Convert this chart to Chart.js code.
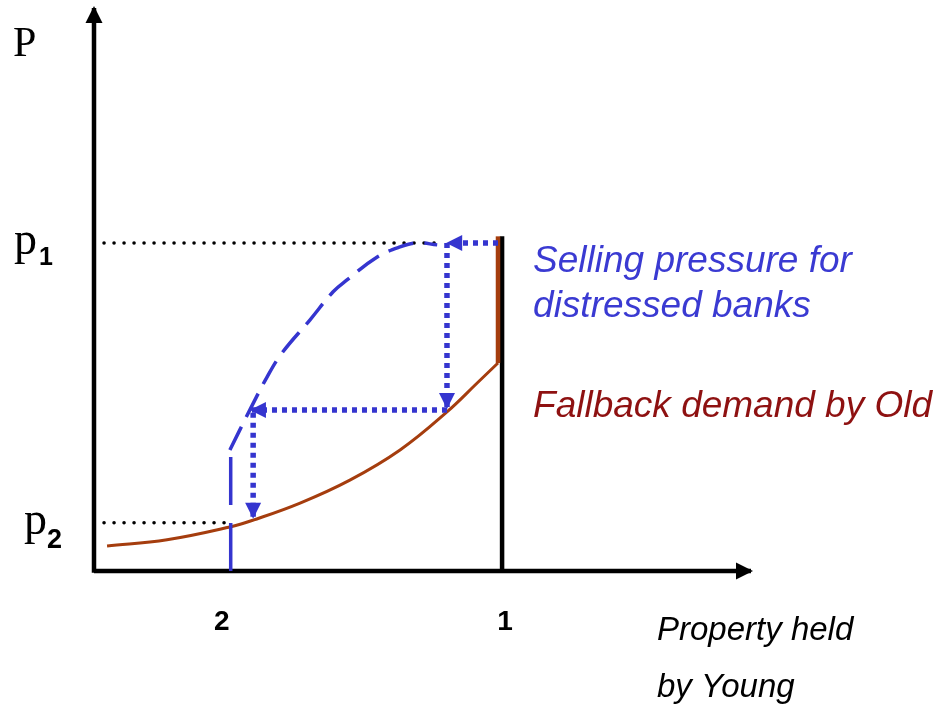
<!DOCTYPE html>
<html>
<head>
<meta charset="utf-8">
<script src="https://cdn.jsdelivr.net/npm/chart.js@4.4.0/dist/chart.umd.min.js"></script>
<style>
  html, body { margin: 0; padding: 0; background: #fff; }
  #wrap { width: 937px; height: 713px; position: relative; }
</style>
</head>
<body>
<div id="wrap"><canvas id="chart"></canvas></div>
<script>
// axis ranges (x: property held, 1 = all; y: price, p1 = 1)
const xMax = 1.61;
const yMax = 1.716;
const p1 = 1.0;
const p2 = 0.147;
const stage1 = 1.0;
const stage2 = 0.335;

// fallback demand by Old (brown)
const fallbackX = [0.032, 0.179, 0.333, 0.390, 0.505, 0.627, 0.750, 0.865, 0.939, 0.990];
const fallbackY = [0.076, 0.095, 0.134, 0.155, 0.207, 0.277, 0.369, 0.485, 0.573, 0.634];
const fallbackTopX = [0.990, 0.990];
const fallbackTopY = [0.634, 1.02];

// selling pressure for distressed banks (blue dashed)
const sellingX = [0.333, 0.382, 0.424, 0.461, 0.529, 0.586, 0.620, 0.694, 0.750, 0.792, 0.841];
const sellingY = [0.369, 0.491, 0.591, 0.665, 0.765, 0.851, 0.887, 0.957, 0.988, 1.000, 0.994];
const sellingFloorX = [stage2, stage2];
const sellingFloorY = [0.0, 0.369];

// spiral arrows [x0, y0, x1, y1]
const spiral = [
  [0.990, 1.000, 0.868, 1.000],
  [0.865, 1.000, 0.865, 0.500],
  [0.865, 0.491, 0.387, 0.491],
  [0.390, 0.482, 0.390, 0.165]
];

const xTicks = [stage2, stage1];
const xTickLabels = ['2', '1'];

const BLUE = '#3535cf';
const BROWN = '#a53d0e';

function pts(xs, ys) {
  return xs.map((x, i) => ({ x: x, y: ys[i] }));
}

function line(data, color, width, extra) {
  return Object.assign({
    data: data, showLine: true, borderColor: color, borderWidth: width,
    pointRadius: 0, fill: false, clip: false, tension: 0
  }, extra || {});
}

const datasets = [];
spiral.forEach(a => {
  datasets.push(line(pts([a[0], a[2]], [a[1], a[3]]), BLUE, 5.5,
    { borderDash: [5, 5], arrow: { len: 16, half: 8 } }));
});
datasets.push(line(pts(sellingX, sellingY), BLUE, 3.5,
  { borderDash: [26, 11], tension: 0.4 }));
datasets.push(line(pts(sellingFloorX, sellingFloorY), BLUE, 3.5, { borderDash: [48, 18] }));
datasets.push(line(pts(fallbackX, fallbackY), BROWN, 3, { tension: 0.4 }));
datasets.push(line(pts(fallbackTopX, fallbackTopY), BROWN, 4.5));
datasets.push(line(pts([0, 0.84], [p1, p1]), '#000', 3.5,
  { borderDash: [0.1, 9.9], borderCapStyle: 'round' }));
datasets.push(line(pts([0, stage2], [p2, p2]), '#000', 3.5,
  { borderDash: [0.1, 9.9], borderCapStyle: 'round' }));
datasets.push(line(pts([stage1, stage1], [0, 1.02]), '#000', 4.5));
datasets.push(line(pts([0, xMax], [0, 0]), '#000', 4.5, { arrow: { len: 17, half: 8.5 } }));
datasets.push(line(pts([0, 0], [-0.005, yMax]), '#000', 4.5, { arrow: { len: 17, half: 8.5 } }));

const arrowHeads = {
  id: 'arrowHeads',
  afterDatasetsDraw(chart) {
    const ctx = chart.ctx;
    chart.data.datasets.forEach((ds, i) => {
      if (!ds.arrow) return;
      const pts = chart.getDatasetMeta(i).data;
      const a = pts[pts.length - 2], b = pts[pts.length - 1];
      const ang = Math.atan2(b.y - a.y, b.x - a.x);
      const L = ds.arrow.len, W = ds.arrow.half;
      ctx.save();
      ctx.fillStyle = ds.borderColor;
      ctx.translate(b.x, b.y);
      ctx.rotate(ang);
      ctx.beginPath();
      ctx.moveTo(2, 0);
      ctx.lineTo(2 - L, -W);
      ctx.lineTo(2 - L, W);
      ctx.closePath();
      ctx.fill();
      ctx.restore();
    });
  }
};

const labels = {
  id: 'labels',
  afterDraw(chart) {
    const ctx = chart.ctx;
    const xs = chart.scales.x, ys = chart.scales.y;
    const left = xs.getPixelForValue(0);
    const base = ys.getPixelForValue(0);
    ctx.save();
    ctx.textBaseline = 'alphabetic';
    ctx.fillStyle = '#000';

    // y axis
    ctx.textAlign = 'left';
    ctx.font = '42px "Liberation Serif", serif';
    ctx.fillText('P', left - 81, 56);
    const yp1 = ys.getPixelForValue(p1), yp2 = ys.getPixelForValue(p2);
    ctx.font = '46px "Liberation Serif", serif';
    ctx.fillText('p', left - 80, yp1 + 11);
    ctx.fillText('p', left - 70, yp2 + 11);
    ctx.font = 'bold 25px "Liberation Sans", sans-serif';
    ctx.fillText('1', left - 55, yp1 + 22);
    ctx.font = 'bold 27px "Liberation Sans", sans-serif';
    ctx.fillText('2', left - 47, yp2 + 25);

    // x ticks
    ctx.textAlign = 'center';
    ctx.font = 'bold 28px "Liberation Sans", sans-serif';
    const tickShift = [-9, 3];
    xTicks.forEach((v, i) => {
      ctx.fillText(xTickLabels[i], xs.getPixelForValue(v) + tickShift[i], base + 59);
    });

    // axis title
    ctx.textAlign = 'left';
    ctx.font = 'italic 33px "Liberation Sans", sans-serif';
    ctx.fillText('Property held', 657, base + 69);
    ctx.fillText('by Young', 657, base + 126);

    // curve captions
    const cx = xs.getPixelForValue(stage1) + 31;
    ctx.font = 'italic 37px "Liberation Sans", sans-serif';
    ctx.fillStyle = '#3a3ad2';
    ctx.fillText('Selling pressure for', cx, 272);
    ctx.fillText('distressed banks', cx, 317);
    ctx.fillStyle = '#8e1111';
    ctx.fillText('Fallback demand by Old', cx, 417);
    ctx.restore();
  }
};

new Chart(document.getElementById('chart'), {
  type: 'scatter',
  data: { datasets: datasets },
  options: {
    responsive: true,
    maintainAspectRatio: false,
    animation: false,
    events: [],
    layout: { padding: { left: 94, right: 186, top: 8, bottom: 142 } },
    plugins: { legend: { display: false }, tooltip: { enabled: false } },
    scales: {
      x: { type: 'linear', min: 0, max: xMax, display: false },
      y: { type: 'linear', min: 0, max: yMax, display: false }
    }
  },
  plugins: [arrowHeads, labels]
});
</script>
</body>
</html>
